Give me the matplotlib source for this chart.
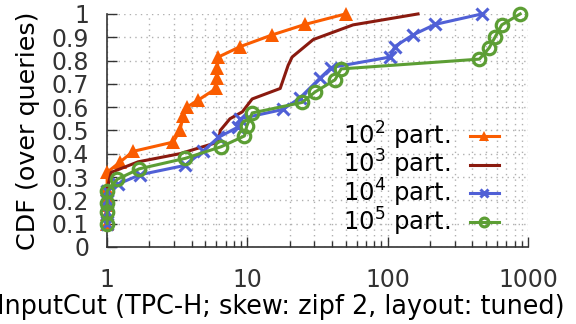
import matplotlib
matplotlib.use('Agg')
import matplotlib.pyplot as plt
from matplotlib.ticker import FixedLocator, LogLocator, NullFormatter

# CDF of InputCut per number of partitions
x_p2 = [1, 1, 1, 1, 1, 1.0, 1.24, 1.53, 2.96, 3.3, 3.48, 3.7, 4.45, 5.98, 6.06, 6.1, 6.2, 8.9, 15, 25.7, 50]
y_p2 = [0.10, 0.14, 0.18, 0.22, 0.25, 0.32, 0.365, 0.41, 0.45, 0.50, 0.56, 0.60, 0.63, 0.68, 0.725, 0.77, 0.815, 0.86, 0.91, 0.955, 1.0]

x_p3 = [1, 1, 1.07, 1.66, 3.3, 6.2, 6.4, 7.5, 9.2, 10.8, 17.1, 19.5, 20.8, 29.4, 56.5, 164]
y_p3 = [0.10, 0.25, 0.32, 0.365, 0.40, 0.45, 0.50, 0.55, 0.58, 0.635, 0.68, 0.78, 0.815, 0.89, 0.953, 1.0]

x_p4 = [1, 1, 1, 1, 1.2, 1.72, 3.6, 4.8, 6.2, 8.6, 8.9, 17.9, 23.7, 32.9, 39.5, 104, 112, 151, 217, 468]
y_p4 = [0.10, 0.15, 0.20, 0.24, 0.27, 0.31, 0.35, 0.41, 0.47, 0.515, 0.55, 0.59, 0.64, 0.725, 0.77, 0.815, 0.86, 0.91, 0.955, 1.0]

x_p5 = [1, 1, 1, 1, 1.18, 1.69, 3.6, 6.5, 9.5, 9.9, 10.8, 24.5, 30.3, 42, 46.5, 449, 527, 580, 648, 877]
y_p5 = [0.10, 0.15, 0.19, 0.24, 0.29, 0.335, 0.38, 0.43, 0.476, 0.52, 0.575, 0.62, 0.665, 0.717, 0.764, 0.806, 0.854, 0.90, 0.953, 1.0]

labels = ['$10^2$ part.', '$10^3$ part.', '$10^4$ part.', '$10^5$ part.']
y_ticks = [0, 0.1, 0.2, 0.3, 0.4, 0.5, 0.6, 0.7, 0.8, 0.9, 1]
y_ticklabels = ['0', '0.1', '0.2', '0.3', '0.4', '0.5', '0.6', '0.7', '0.8', '0.9', '1']
x_ticks = [1, 10, 100, 1000]
x_ticklabels = ['1', '10', '100', '1000']

plt.rcParams['font.family'] = 'DejaVu Sans'
plt.rcParams['font.size'] = 17

fig = plt.figure(figsize=(5.76, 3.24), dpi=100)
ax = fig.add_axes([0.186, 0.238, 0.731, 0.719])

ax.plot(x_p2, y_p2, color='#fa5c00', lw=2.2, marker='^', ms=10, mew=0, label=labels[0], clip_on=False, zorder=3)
ax.plot(x_p3, y_p3, color='#8a1a0f', lw=2.2, label=labels[1], clip_on=False, zorder=3)
ax.plot(x_p4, y_p4, color='#5060d6', lw=2.2, marker='x', ms=8, mew=2.2, label=labels[2], clip_on=False, zorder=3)
ax.plot(x_p5, y_p5, color='#5c9e34', lw=2.2, marker='o', ms=9, mew=2.3, mfc='none', label=labels[3], clip_on=False, zorder=4)

ax.set_xscale('log')
ax.set_xlim(1, 1000)
ax.set_ylim(0, 1)
ax.set_yticks(y_ticks)
ax.set_yticklabels(y_ticklabels)
ax.xaxis.set_major_locator(FixedLocator(x_ticks))
ax.set_xticklabels(x_ticklabels)
ax.xaxis.set_minor_locator(LogLocator(base=10, subs=range(2, 10)))
ax.xaxis.set_minor_formatter(NullFormatter())

ax.grid(True, which='both', axis='x', color='#b0b0b0', linestyle=(0, (1, 3)), lw=1)
ax.grid(True, which='major', axis='y', color='#b0b0b0', linestyle=(0, (1, 3)), lw=1)
ax.set_axisbelow(True)

for s in ['top', 'right']:
    ax.spines[s].set_visible(False)
for s in ['left', 'bottom']:
    ax.spines[s].set_color('#333333')
    ax.spines[s].set_linewidth(1.2)

ax.tick_params(which='major', direction='in', length=7, width=1, colors='#333333', labelcolor='#333333', top=False, right=False)
ax.tick_params(which='minor', direction='in', length=4, width=1, colors='#333333')
ax.tick_params(axis='x', pad=15)
ax.tick_params(axis='y', pad=13)

ax.set_ylabel('CDF (over queries)', fontsize=18.3, labelpad=8)
ax.set_xlabel('InputCut (TPC-H; skew: zipf 2, layout: tuned)', fontsize=18.4, labelpad=2, x=0.413)

ax.legend(loc='lower right', bbox_to_anchor=(0.93, 0.04), frameon=False, markerfirst=False,
          fontsize=17.5, markerscale=0.7, handlelength=1.2, labelspacing=-0.15,
          handletextpad=0.8, borderpad=0.0, borderaxespad=0.0)

fig.savefig('out.png', dpi=100)
